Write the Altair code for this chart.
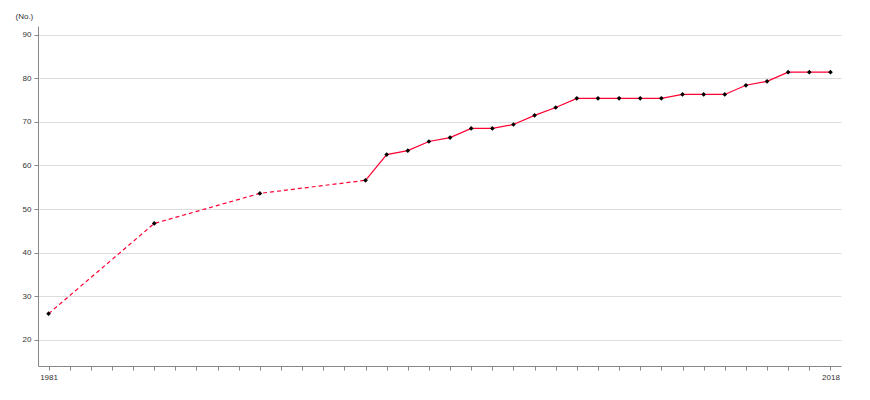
import altair as alt
import pandas as pd

years = [1981, 1986, 1991, 1996, 1997, 1998, 1999, 2000, 2001, 2002, 2003, 2004,
         2005, 2006, 2007, 2008, 2009, 2010, 2011, 2012, 2013, 2014, 2015, 2016,
         2017, 2018]
values = [26.0, 46.7, 53.6, 56.6, 62.5, 63.4, 65.5, 66.4, 68.5, 68.5, 69.4, 71.5,
          73.3, 75.4, 75.4, 75.4, 75.4, 75.4, 76.3, 76.3, 76.3, 78.4, 79.3, 81.4,
          81.4, 81.4]
y_ticks = [20, 30, 40, 50, 60, 70, 80, 90]
x_ticks = list(range(1981, 2019))

df = pd.DataFrame({"year": years, "value": values})
dashed = df[df["year"] <= 1996]
solid = df[df["year"] >= 1996]

FONT = "Liberation Sans"
RED = "#ff0033"

x_enc = alt.X("year:Q",
              scale=alt.Scale(domain=[1980.5, 2018.5], nice=False, zero=False),
              axis=alt.Axis(values=x_ticks, format="d", grid=False, title=None,
                            labelExpr="(datum.value == 1981 || datum.value == 2018) ? datum.label : ''",
                            tickSize=4, labelPadding=3, domainColor="#888888",
                            tickColor="#888888", labelColor="#333333",
                            labelFont=FONT, labelFontSize=8, labelFlush=False))
y_enc = alt.Y("value:Q",
              scale=alt.Scale(domain=[14, 92], nice=False, zero=False),
              axis=alt.Axis(values=y_ticks, grid=True, gridColor="#dddddd",
                            title="(No.)", titleAngle=0, titleX=-23, titleY=-10,
                            titleAlign="left", titleBaseline="middle",
                            titleFont=FONT, titleFontSize=8, titleFontWeight="normal",
                            titleColor="#333333",
                            tickSize=4, labelPadding=3, domainColor="#888888",
                            tickColor="#888888", labelColor="#333333",
                            labelFont=FONT, labelFontSize=8))

line_dashed = alt.Chart(dashed).mark_line(color=RED, strokeWidth=1.2, strokeDash=[4, 3]).encode(x=x_enc, y=y_enc)
line_solid = alt.Chart(solid).mark_line(color=RED, strokeWidth=1.2).encode(x=x_enc, y=y_enc)
points = alt.Chart(df).mark_point(shape="diamond", filled=True, color="black", size=22, opacity=1).encode(x=x_enc, y=y_enc)

chart = alt.layer(line_dashed, line_solid, points).properties(
    width=803, height=340,
    autosize=alt.AutoSizeParams(type="none"),
    padding={"left": 30, "top": 18, "right": 10, "bottom": 20},
).configure_view(stroke=None)

chart.save("out.html", embed_options={"renderer": "svg", "actions": False})
